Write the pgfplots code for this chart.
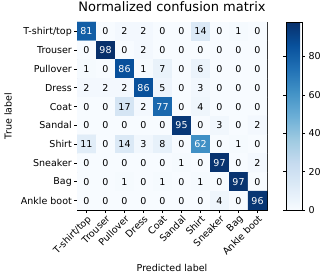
\documentclass[border=0pt]{standalone}
\usepackage{pgfplots}
\pgfplotsset{compat=1.18}
\usepackage{pgfplotstable}
\usepackage{fontspec}
\setmainfont{DejaVu Sans}

% Confusion matrix in percent: x = predicted class, y = 9 - true class
\pgfplotstableread{
x y c
0 9 81
1 9 0
2 9 2
3 9 2
4 9 0
5 9 0
6 9 14
7 9 0
8 9 1
9 9 0
0 8 0
1 8 98
2 8 0
3 8 2
4 8 0
5 8 0
6 8 0
7 8 0
8 8 0
9 8 0
0 7 1
1 7 0
2 7 86
3 7 1
4 7 7
5 7 0
6 7 6
7 7 0
8 7 0
9 7 0
0 6 2
1 6 2
2 6 2
3 6 86
4 6 5
5 6 0
6 6 3
7 6 0
8 6 0
9 6 0
0 5 0
1 5 0
2 5 17
3 5 2
4 5 77
5 5 0
6 5 4
7 5 0
8 5 0
9 5 0
0 4 0
1 4 0
2 4 0
3 4 0
4 4 0
5 4 95
6 4 0
7 4 3
8 4 0
9 4 2
0 3 11
1 3 0
2 3 14
3 3 3
4 3 8
5 3 0
6 3 62
7 3 0
8 3 1
9 3 0
0 2 0
1 2 0
2 2 0
3 2 0
4 2 0
5 2 1
6 2 0
7 2 97
8 2 0
9 2 2
0 1 0
1 1 0
2 1 1
3 1 0
4 1 1
5 1 0
6 1 1
7 1 0
8 1 97
9 1 0
0 0 0
1 0 0
2 0 0
3 0 0
4 0 0
5 0 0
6 0 0
7 0 4
8 0 0
9 0 96
}\cm

\pgfplotsset{
  colormap={blues}{
    rgb255=(247,251,255) rgb255=(222,235,247) rgb255=(198,219,239)
    rgb255=(158,202,225) rgb255=(107,174,214) rgb255=(66,146,198)
    rgb255=(33,113,181) rgb255=(8,81,156) rgb255=(8,48,107)
  },
}

\begin{document}
\begin{tikzpicture}
\path[use as bounding box] (0,0) rectangle (320pt,280pt);
\begin{axis}[
  at={(77pt,70pt)}, anchor=south west,
  scale only axis, width=190pt, height=188pt,
  xmin=-0.5, xmax=9.5, ymin=-0.5, ymax=9.5,
  colormap name=blues,
  point meta min=0, point meta max=98,
  font=\fontsize{9.5}{11}\selectfont,
  axis line style={line width=0.6pt},
  xtick={0,...,9}, ytick={0,...,9},
  xticklabels={T-shirt/top,Trouser,Pullover,Dress,Coat,Sandal,Shirt,Sneaker,Bag,Ankle boot},
  yticklabels={Ankle boot,Bag,Sneaker,Shirt,Sandal,Coat,Dress,Pullover,Trouser,T-shirt/top},
  xtick pos=left, ytick pos=left,
  tick align=outside,
  major tick length=3pt,
  tick style={black, line width=0.6pt},
  x tick label style={rotate=45, anchor=north east, inner sep=1pt},
  y tick label style={inner sep=2pt},
  title={Normalized confusion matrix},
  title style={font=\fontsize{13}{15}\selectfont, at={(0.5,1)}, anchor=base, yshift=4pt},
  xlabel={Predicted label},
  ylabel={True label},
  xlabel style={at={(axis description cs:0.5,-0.31)}, anchor=center},
  ylabel style={at={(axis description cs:-0.363,0.5)}, anchor=center, rotate=0},
  colorbar,
  colorbar style={
    at={(1.1,0)}, anchor=south west,
    width=16pt, height=188pt,
    ytick={0,20,40,60,80},
    yticklabel pos=right,
    tick align=outside,
    major tick length=3pt,
    tick style={black, line width=0.6pt},
    axis line style={line width=0.6pt},
    font=\fontsize{9.5}{11}\selectfont,
    /pgf/number format/assume math mode=true,
  },
]
\addplot[matrix plot*, mesh/cols=10, point meta=explicit]
  table[x=x, y=y, meta=c] {\cm};
\addplot[only marks, mark=*, mark size=0pt, point meta=explicit,
  nodes near coords={\ifdim\pgfplotspointmetatransformed pt>500pt\color{white}\fi\pgfmathprintnumber[assume math mode=true, fixed, precision=0]{\pgfplotspointmeta}},
  nodes near coords align=center,
  every node near coord/.append style={font=\fontsize{9.5}{11}\selectfont, inner sep=0pt, anchor=center}]
  table[x=x, y=y, meta=c] {\cm};
\end{axis}
\end{tikzpicture}
\end{document}
